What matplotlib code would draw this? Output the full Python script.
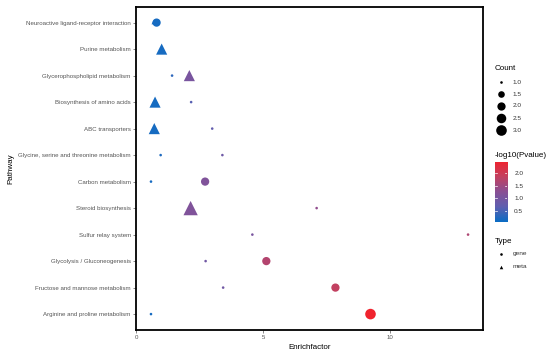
import numpy as np
import matplotlib
matplotlib.use("Agg")
import matplotlib.pyplot as plt
from matplotlib.colors import LinearSegmentedColormap, Normalize

plt.rcParams['font.family'] = ['Liberation Sans', 'DejaVu Sans']

pathways = [
    "Neuroactive ligand-receptor interaction",
    "Purine metabolism",
    "Glycerophospholipid metabolism",
    "Biosynthesis of amino acids",
    "ABC transporters",
    "Glycine, serine and threonine metabolism",
    "Carbon metabolism",
    "Steroid biosynthesis",
    "Sulfur relay system",
    "Glycolysis / Gluconeogenesis",
    "Fructose and mannose metabolism",
    "Arginine and proline metabolism",
]

pt_pathway = [
    "Neuroactive ligand-receptor interaction", "Neuroactive ligand-receptor interaction",
    "Purine metabolism",
    "Glycerophospholipid metabolism", "Glycerophospholipid metabolism",
    "Biosynthesis of amino acids", "Biosynthesis of amino acids",
    "ABC transporters", "ABC transporters",
    "Glycine, serine and threonine metabolism", "Glycine, serine and threonine metabolism",
    "Carbon metabolism", "Carbon metabolism",
    "Steroid biosynthesis", "Steroid biosynthesis",
    "Sulfur relay system", "Sulfur relay system",
    "Glycolysis / Gluconeogenesis", "Glycolysis / Gluconeogenesis",
    "Fructose and mannose metabolism", "Fructose and mannose metabolism",
    "Arginine and proline metabolism", "Arginine and proline metabolism",
]
enrich = [0.81, 0.68, 1.01, 1.42, 2.10, 0.75, 2.17, 0.72, 3.00, 0.97, 3.40,
          0.59, 2.72, 2.15, 7.11, 4.58, 13.07, 2.74, 5.13, 3.43, 7.85, 0.59, 9.23]
count = [2, 1, 2, 1, 2, 2, 1, 2, 1, 1, 1, 1, 2, 3, 1, 1, 1, 1, 2, 1, 2, 1, 3]
logp = [0.15, 0.15, 0.15, 0.30, 1.00, 0.15, 0.60, 0.15, 0.70, 0.20, 0.85,
        0.15, 1.10, 1.10, 1.30, 1.00, 1.60, 0.90, 1.65, 0.90, 1.80, 0.15, 2.41]
ptype = ["gene", "meta", "meta", "gene", "meta", "meta", "gene", "meta", "gene", "gene", "gene",
         "gene", "gene", "meta", "gene", "gene", "gene", "gene", "gene", "gene", "gene", "gene", "gene"]

size_ticks = [1.0, 1.5, 2.0, 2.5, 3.0]
color_ticks = [0.5, 1.0, 1.5, 2.0]
types = ["gene", "meta"]

cmin, cmax = 0.06, 2.41
cmap = LinearSegmentedColormap.from_list("bp", ["#0a6dc4", "#5f5fb0", "#8a4f94", "#c4405f", "#f0232e"])
norm = Normalize(cmin, cmax)

def diam_px(c):
    t = (np.asarray(c, float) - 1.0) / 2.0
    return 2.6 + 8.0 * np.sqrt(np.clip(t, 0, 1))

def s_of(c, mk):
    d = diam_px(c) * 0.72
    if mk == "^":
        d = d * 1.35
    return d ** 2

fig = plt.figure(figsize=(5.5, 3.57), dpi=100)
W, H = 550, 357
axw = 483.3 - 136
ax = fig.add_axes([136 / W, 1 - 330 / H, axw / W, (330 - 6.7) / H])

ypos = {p: len(pathways) - 1 - i for i, p in enumerate(pathways)}
markers = {"gene": "o", "meta": "^"}
for tname in types:
    idx = [i for i, t in enumerate(ptype) if t == tname]
    xs = [enrich[i] for i in idx]
    ys = [ypos[pt_pathway[i]] for i in idx]
    cs = [cmap(norm(logp[i])) for i in idx]
    ss = [s_of(count[i], markers[tname]) for i in idx]
    ax.scatter(xs, ys, s=ss, c=cs, marker=markers[tname], linewidths=0, zorder=3)

ax.set_xlim(0, 13.67)
ax.set_ylim(-0.6, len(pathways) - 0.4)
ax.set_yticks(range(len(pathways)))
ax.set_yticklabels(pathways[::-1])
ax.set_xticks([0, 5, 10])
ax.tick_params(axis='both', labelsize=4.45, colors='#555555', length=2.2, width=0.5, pad=1.5)
for sp in ax.spines.values():
    sp.set_linewidth(1.3)
    sp.set_color('black')
ax.set_xlabel("Enrichfactor", fontsize=5.8, labelpad=3)
ax.set_ylabel("Pathway", fontsize=5.8)
ax.yaxis.set_label_coords((-136 + 14) / axw, 0.5)

# legend area
lg = fig.add_axes([0, 0, 1, 1], facecolor='none')
lg.set_xlim(0, W)
lg.set_ylim(H, 0)
lg.axis('off')
fs_t = 5.8
fs_l = 4.65
lg.text(495, 69, "Count", fontsize=fs_t, va='center', ha='left')
for v, yy in zip(size_ticks, [82.3, 94, 105.7, 118, 130.3]):
    lg.scatter([501], [yy], s=s_of(v, "o"), c='black', linewidths=0)
    lg.text(512.5, yy, f"{v:.1f}", fontsize=fs_l, va='center', ha='left', color='#333333')

lg.text(495, 155.7, "-log10(Pvalue)", fontsize=fs_t, va='center', ha='left')
cax = fig.add_axes([495 / W, 1 - 222.3 / H, 12.3 / W, 60 / H])
grad = np.linspace(cmin, cmax, 256).reshape(-1, 1)
cax.imshow(grad, aspect='auto', cmap=cmap, norm=norm, origin='lower',
           extent=[0, 1, cmin, cmax])
cax.set_xticks([])
cax.set_yticks(color_ticks)
cax.set_yticklabels([f"{v:.1f}" for v in color_ticks])
cax.yaxis.tick_right()
cax.tick_params(axis='y', length=0, labelsize=fs_l, colors='#333333', pad=5)
for v in color_ticks:
    cax.plot([0, 0.2], [v, v], color='white', lw=0.5)
    cax.plot([0.8, 1], [v, v], color='white', lw=0.5)
cax.set_xlim(0, 1)
cax.set_ylim(cmin, cmax)
for sp in cax.spines.values():
    sp.set_visible(False)

lg.text(495, 241.7, "Type", fontsize=fs_t, va='center', ha='left')
for tname, yy in zip(types, [254, 266.7]):
    lg.scatter([501], [yy], s=s_of(1, markers[tname]), c='black', marker=markers[tname], linewidths=0)
    lg.text(512.5, yy, tname, fontsize=fs_l, va='center', ha='left', color='#333333')

fig.savefig("out.png", dpi=100)
